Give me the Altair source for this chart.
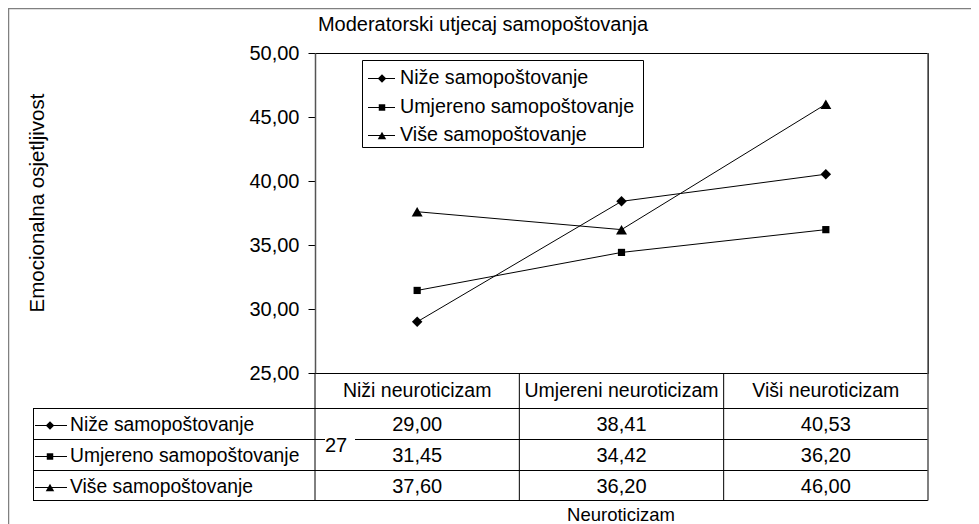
import altair as alt
import pandas as pd

# ---- data ----
categories = ["Niži neuroticizam", "Umjereni neuroticizam", "Viši neuroticizam"]
series_names = ["Niže samopoštovanje", "Umjereno samopoštovanje", "Više samopoštovanje"]
nize = [29.00, 38.41, 40.53]
umjereno = [31.45, 34.42, 36.20]
vise = [37.60, 36.20, 46.00]
y_ticks = [25, 30, 35, 40, 45, 50]
title_text = "Moderatorski utjecaj samopoštovanja"
y_title = "Emocionalna osjetljivost"
x_title = "Neuroticizam"
stray_label = "27"

rows = []
for s, vals in zip(series_names, [nize, umjereno, vise]):
    for c, v in zip(categories, vals):
        rows.append({"series": s, "cat": c, "value": v,
                     "label": f"{v:.2f}".replace(".", ",")})
df = pd.DataFrame(rows)

# ---- layout ----
W, H = 613, 320
FONT = "Liberation Sans"
FS = 20
shapes = ["diamond", "square", "triangle-up"]
plot_sizes = [110, 52, 120]
key_sizes = [72, 42, 72]

xscale = alt.Scale(domain=categories, paddingInner=0, paddingOuter=0)
yscale = alt.Scale(domain=[25, 50], nice=False, zero=False)
x_axis = alt.Axis(title=None, orient="bottom", ticks=False, labelFont=FONT,
                  labelFontSize=19.5, labelColor="black", labelBaseline="middle",
                  labelPadding=17, domainColor="black", labelAngle=0, grid=False,
                  labelLimit=0)
y_axis = alt.Axis(title=None, values=y_ticks, grid=False,
                  labelExpr="replace(format(datum.value, '.2f'), '.', ',')",
                  labelFont=FONT, labelFontSize=20, labelColor="black",
                  tickColor="black", tickSize=7, labelPadding=9,
                  domainColor="#555555", domainWidth=1.5)


def xe(**kw):
    return alt.X("cat:N", scale=xscale, sort=categories, axis=x_axis, **kw)


def ye():
    return alt.Y("value:Q", scale=yscale, axis=y_axis)


one = pd.DataFrame({"t": [0]})
layers = []

# outer frame
layers.append(alt.Chart(one).mark_rect(fillOpacity=0, stroke="#808080", strokeWidth=1.5).encode(
    x=alt.value(-306.5), x2=alt.value(W + 200), y=alt.value(-44.5), y2=alt.value(H + 300)))

# legend box
layers.append(alt.Chart(one).mark_rect(fill="white", stroke="black", strokeWidth=1).encode(
    x=alt.value(47.5), x2=alt.value(328.5), y=alt.value(7.5), y2=alt.value(94.5)))

# table horizontal lines
for yy in [355, 386, 417, 447]:
    layers.append(alt.Chart(one).mark_rule(color="black", strokeWidth=1).encode(
        x=alt.value(-282), x2=alt.value(W), y=alt.value(yy + 0.5)))
# table left border
layers.append(alt.Chart(one).mark_rule(color="black", strokeWidth=1).encode(
    x=alt.value(-281.5), y=alt.value(355), y2=alt.value(447.5)))
# band boundary lines through header and table
cat_df = pd.DataFrame({"cat": categories})
layers.append(alt.Chart(cat_df).mark_rule(color="black", strokeWidth=1).encode(
    x=xe(bandPosition=0), y=alt.value(H), y2=alt.value(447.5)))
layers.append(alt.Chart(one).mark_rule(color="#555555", strokeWidth=1.5).encode(
    x=alt.value(W), y=alt.value(0), y2=alt.value(447.5)))

# stray "27" label with white background
layers.append(alt.Chart(one).mark_rect(fill="white").encode(
    x=alt.value(10), x2=alt.value(40), y=alt.value(383), y2=alt.value(390)))
layers.append(alt.Chart(pd.DataFrame({"t": [stray_label]})).mark_text(
    font=FONT, fontSize=FS, color="black", align="left", baseline="middle").encode(
    x=alt.value(10), y=alt.value(393), text="t:N"))

# titles
layers.append(alt.Chart(pd.DataFrame({"t": [title_text]})).mark_text(
    font=FONT, fontSize=FS, color="black", align="center", baseline="middle").encode(
    x=alt.value(168), y=alt.value(-28), text="t:N"))
layers.append(alt.Chart(pd.DataFrame({"t": [y_title]})).mark_text(
    font=FONT, fontSize=20.5, color="black", align="center", baseline="middle", angle=270).encode(
    x=alt.value(-277), y=alt.value(150), text="t:N"))
layers.append(alt.Chart(pd.DataFrame({"t": [x_title]})).mark_text(
    font=FONT, fontSize=18.5, color="black", align="center", baseline="middle").encode(
    x=alt.value(306), y=alt.value(462), text="t:N"))

# table values, legend keys and table keys
legend_rows = [25, 54, 82]
table_rows = [372, 403, 434]
for i, s in enumerate(series_names):
    sdf = pd.DataFrame({"series": [s]})
    layers.append(alt.Chart(df).transform_filter(alt.datum.series == s).mark_text(
        font=FONT, fontSize=FS, color="black", baseline="middle").encode(
        x=xe(), y=alt.value(table_rows[i]), text="label:N"))
    for (y0, xl1, xl2, xm, xt, fs) in [(legend_rows[i], 53, 80, 67, 85, 19.7),
                                        (table_rows[i], -280, -248, -265, -245, 19.3)]:
        layers.append(alt.Chart(sdf).mark_rule(color="black", strokeWidth=1).encode(
            x=alt.value(xl1), x2=alt.value(xl2), y=alt.value(y0 + 0.5)))
        layers.append(alt.Chart(sdf).mark_point(
            filled=True, color="black", opacity=1, shape=shapes[i], size=key_sizes[i]).encode(
            x=alt.value(xm), y=alt.value(y0 + 0.5)))
        layers.append(alt.Chart(sdf).mark_text(
            font=FONT, fontSize=fs, color="black", align="left", baseline="middle").encode(
            x=alt.value(xt), y=alt.value(y0), text="series:N"))

# data lines and markers
layers.append(alt.Chart(df).mark_line(color="black", strokeWidth=1).encode(
    x=xe(), y=ye(), detail="series:N"))
for i, s in enumerate(series_names):
    layers.append(alt.Chart(df).transform_filter(alt.datum.series == s).mark_point(
        filled=True, color="black", opacity=1, shape=shapes[i], size=plot_sizes[i]).encode(
        x=xe(), y=ye()))

chart = alt.layer(*layers).properties(
    width=W, height=H,
    padding={"left": 307, "top": 45, "right": 43, "bottom": 151},
    autosize=alt.AutoSizeParams(type="none"),
).configure_view(stroke="black", strokeWidth=1)

chart.save("out.html", embed_options={"renderer": "svg", "actions": False})
